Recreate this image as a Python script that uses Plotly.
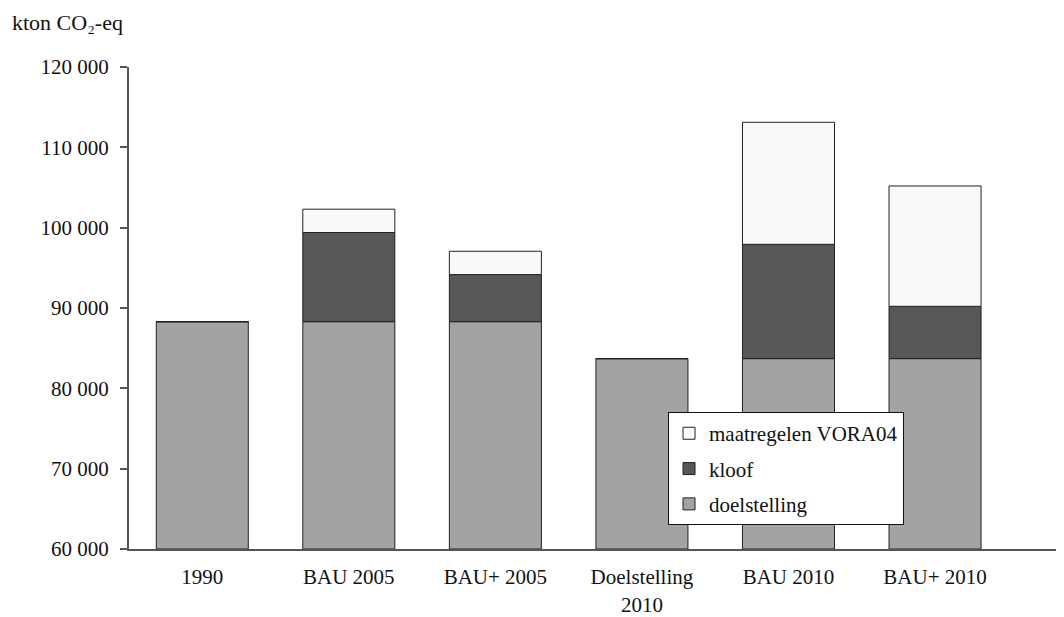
import plotly.graph_objects as go

categories = ["1990", "BAU 2005", "BAU+ 2005", "Doelstelling<br>2010", "BAU 2010", "BAU+ 2010"]
doelstelling = [88300, 88300, 88300, 83700, 83700, 83700]
kloof = [0, 11100, 5860, 0, 14230, 6510]
maatregelen = [0, 2900, 2900, 0, 15190, 14980]
y_min = 60000

FONT = "Liberation Serif"
fig = go.Figure()
line = dict(color="#222222", width=1)
fig.add_trace(go.Bar(x=categories, y=[d - y_min for d in doelstelling], base=[y_min] * len(categories),
                     name="doelstelling",
                     marker=dict(color="#a3a3a3", line=line), legendgroup="c", legendrank=3))
fig.add_trace(go.Bar(x=categories, y=kloof, name="kloof",
                     base=list(doelstelling),
                     marker=dict(color="#575757", line=line), legendgroup="b", legendrank=2))
fig.add_trace(go.Bar(x=categories, y=maatregelen, name="maatregelen VORA04",
                     base=[d + k for d, k in zip(doelstelling, kloof)],
                     marker=dict(color="#f9f9f9", line=line), legendgroup="a", legendrank=1))

fig.update_layout(
    width=1064, height=617,
    margin=dict(l=121, r=8, t=59, b=76),
    paper_bgcolor="white", plot_bgcolor="white",
    barmode="overlay", bargap=0.372,
    font=dict(family=FONT, size=21, color="#111111"),
    showlegend=True,
    legend=dict(x=0.5765, y=0.284, xanchor="left", yanchor="top",
                bgcolor="white", bordercolor="#111111", borderwidth=1,
                traceorder="grouped", tracegroupgap=5,
                font=dict(family=FONT, size=21)),
    xaxis=dict(range=[-0.5, 5.88], showline=True, linecolor="#555555", linewidth=2,
               ticks="", showgrid=False, tickfont=dict(size=21), ticklabelstandoff=8),
    yaxis=dict(range=[60000, 120000], showline=True, linecolor="#555555", linewidth=2,
               ticks="outside", ticklen=7, tickcolor="#555555", tickwidth=2,
               tickvals=[60000, 70000, 80000, 90000, 100000, 110000, 120000],
               ticktext=["60 000", "70 000", "80 000", "90 000", "100 000", "110 000", "120 000"],
               showgrid=False, zeroline=False, ticklabelstandoff=7, tickfont=dict(size=21)),
    annotations=[dict(text="kton CO₂-eq", xref="paper", yref="paper", x=-0.1272, y=1.1224,
                      xanchor="left", yanchor="top", showarrow=False,
                      font=dict(family=FONT, size=22))],
)
fig.write_html("out.html")
